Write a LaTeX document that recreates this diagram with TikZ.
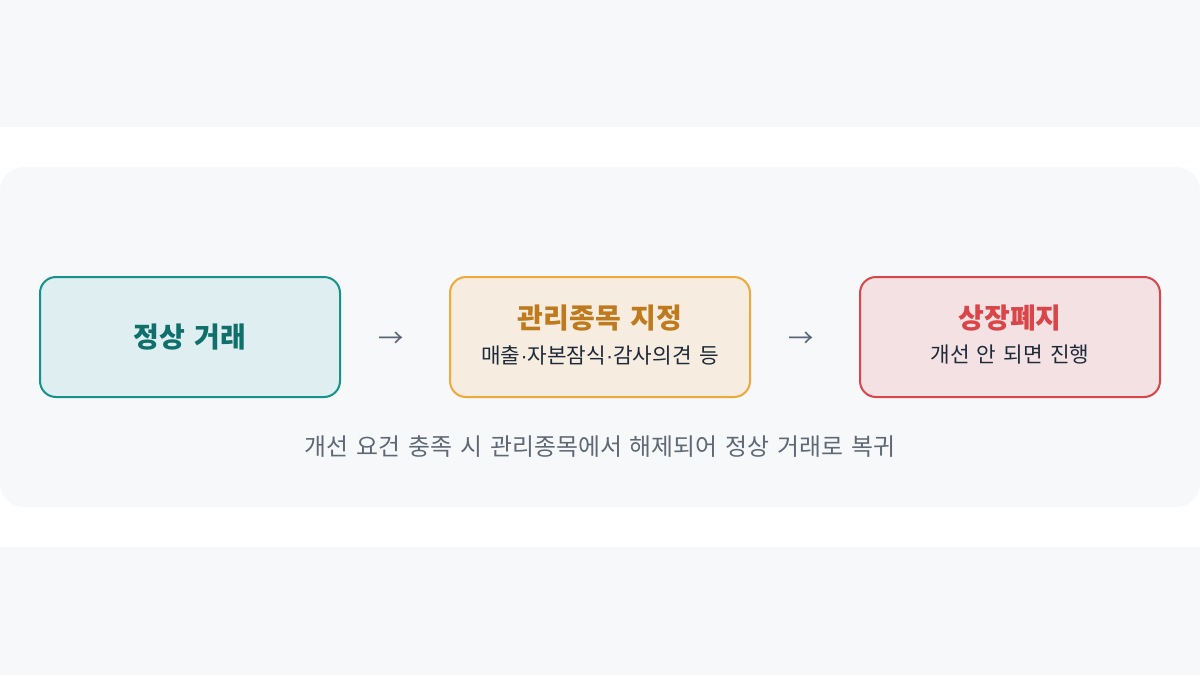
\documentclass[tikz,border=0pt]{standalone}
\usepackage{fontspec}
\setmainfont[WordSpace=1.5]{Noto Sans CJK KR}
\newfontfamily\dotfont{Liberation Sans}
\usetikzlibrary{calc}
\definecolor{pagegray}{HTML}{F7F8FA}
\definecolor{tealline}{HTML}{17928A}
\definecolor{tealfill}{HTML}{DFEEF0}
\definecolor{tealtext}{HTML}{0F6F6A}
\definecolor{amberline}{HTML}{F0A83A}
\definecolor{amberfill}{HTML}{F6EDE0}
\definecolor{ambertext}{HTML}{C07A1E}
\definecolor{redline}{HTML}{D94548}
\definecolor{redfill}{HTML}{F3E1E3}
\definecolor{inktext}{HTML}{1E2A3A}
\definecolor{arrowgray}{HTML}{5A6678}
\definecolor{notegray}{HTML}{5F6875}
\newcommand{\middot}{{\dotfont ·}}
\tikzset{
  stagebox/.style={draw, line width=1.5pt, rounded corners=12pt,
    minimum width=225pt, minimum height=90pt, inner sep=0pt},
  stagetitle/.style={font=\fontsize{21}{25}\selectfont\bfseries, inner sep=0pt},
  stagesub/.style={font=\fontsize{16}{19}\selectfont, text=inktext, inner sep=0pt},
  flowarrow/.style={font=\fontsize{19}{22}\selectfont, text=arrowgray, inner sep=0pt}
}
\begin{document}
\begin{tikzpicture}[x=0.75pt, y=-0.75pt]
  % page and panel
  \fill[white] (0,0) rectangle (1200,675);
  \fill[pagegray] (0,0) rectangle (1200,127);
  \fill[pagegray] (0,547) rectangle (1200,675);
  \fill[pagegray, rounded corners=18pt] (0,167) rectangle (1200,507);
  \useasboundingbox (0,0) rectangle (1200,675);

  % stages
  \node[stagebox, draw=tealline, fill=tealfill] (normal) at (190,337) {};
  \node[stagebox, draw=amberline, fill=amberfill] (watch) at (600,337) {};
  \node[stagebox, draw=redline, fill=redfill] (delist) at (1010,337) {};

  \node[stagetitle, text=tealtext] (normaltitle) at (normal.center) {정상 거래};
  \node[stagetitle, text=ambertext] (watchtitle) at ($(watch.center)+(0,-19)$) {관리종목 지정};
  \node[stagesub] (watchsub) at ($(watch.center)+(0,18)$) {매출\middot 자본잠식\middot 감사의견 등};
  \node[stagetitle, text=redline] (delisttitle) at ($(delist.center)+(0,-19)$) {상장폐지};
  \node[stagesub] (delistsub) at ($(delist.center)+(0,18)$) {개선 안 되면 진행};

  % arrows between stages
  \node[flowarrow] (arrowone) at ($(normal.east)!0.5!(watch.west)+(-4,3)$) {→};
  \node[flowarrow] (arrowtwo) at ($(watch.east)!0.5!(delist.west)+(-4,3)$) {→};

  % note
  \node[font=\fontsize{17.9}{21}\selectfont, text=notegray, inner sep=0pt] (note) at (600,447)
    {개선 요건 충족 시 관리종목에서 해제되어 정상 거래로 복귀};
\end{tikzpicture}
\end{document}
